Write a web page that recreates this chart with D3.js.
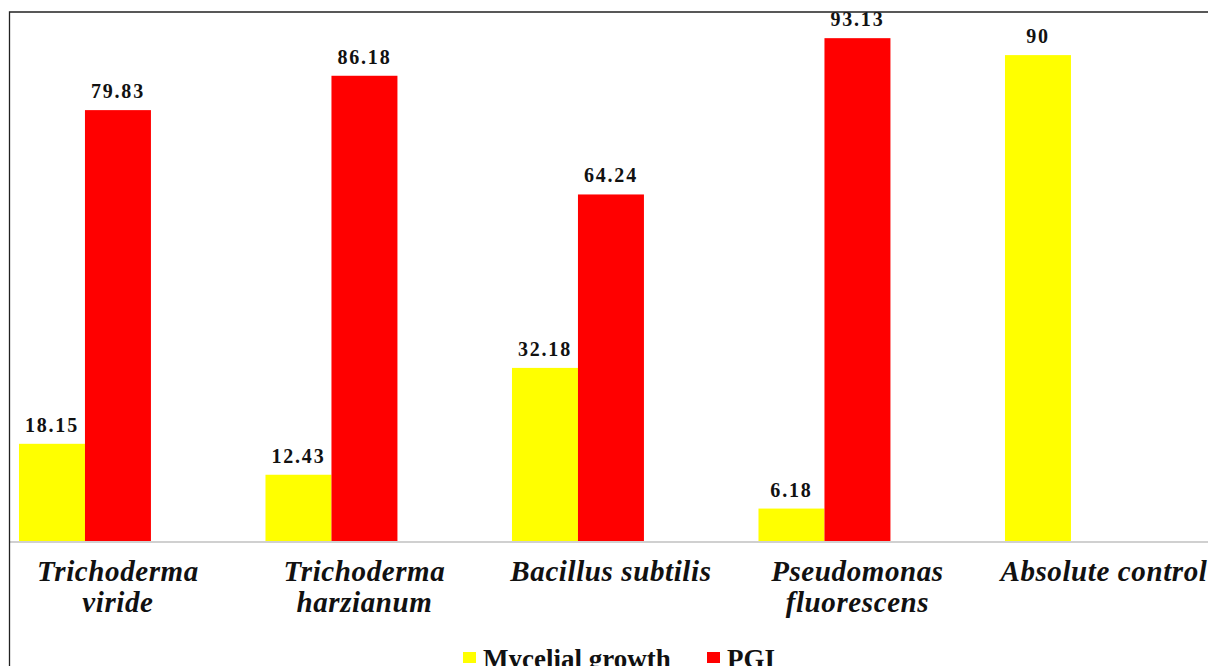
<!DOCTYPE html>
<html>
<head>
<meta charset="utf-8">
<script src="https://cdn.jsdelivr.net/npm/d3@7"></script>
<style>
  body { margin: 0; background: #fff; }
  svg { display: block; font-family: "Liberation Serif", "Times New Roman", serif; }
</style>
</head>
<body>
<div id="chart"></div>
<script>
// categories (two lines each) and series values
const categories = [
  ["Trichoderma", "viride"],
  ["Trichoderma", "harzianum"],
  ["Bacillus subtilis"],
  ["Pseudomonas", "fluorescens"],
  ["Absolute control"]
];
const myceliaGrowth = [18.15, 12.43, 32.18, 6.18, 90];
const pgi = [79.83, 86.18, 64.24, 93.13, null];
const seriesNames = ["Mycelial growth", "PGI"];
const seriesColors = ["#ffff00", "#ff0000"];

const width = 1208, height = 666;
const baseY = 542;

const svg = d3.select("#chart").append("svg")
  .attr("width", width)
  .attr("height", height);

const catKeys = categories.map(c => c.join(" "));

// category bands: step 246.5, band 198 (Excel-style cluster with 3 slots)
const step = 246.5;
const x = d3.scaleBand()
  .domain(catKeys)
  .range([-5.3, -5.3 + step * catKeys.length])
  .paddingInner(0.197)
  .paddingOuter(0.0985);

// third slot stays empty
const xSub = d3.scaleBand()
  .domain(["growth", "pgi", "empty"])
  .range([0, x.bandwidth()]);

const y = d3.scaleLinear().domain([0, 100]).range([baseY, 1]);

const rows = catKeys.map((k, i) => ({
  cat: k,
  vals: [
    { key: "growth", value: myceliaGrowth[i], color: seriesColors[0] },
    { key: "pgi", value: pgi[i], color: seriesColors[1] }
  ].filter(d => d.value != null)
}));

const groups = svg.append("g").selectAll("g")
  .data(rows)
  .join("g")
  .attr("transform", d => `translate(${x(d.cat)},0)`);

groups.selectAll("rect")
  .data(d => d.vals)
  .join("rect")
  .attr("x", d => xSub(d.key))
  .attr("y", d => y(d.value))
  .attr("width", xSub.bandwidth())
  .attr("height", d => baseY - y(d.value))
  .attr("fill", d => d.color);

groups.selectAll("text.val")
  .data(d => d.vals)
  .join("text")
  .attr("class", "val")
  .attr("x", d => xSub(d.key) + xSub.bandwidth() / 2)
  .attr("y", d => y(d.value) - 12)
  .attr("text-anchor", "middle")
  .style("font-size", "20px")
  .style("font-weight", "bold")
  .style("letter-spacing", "1.8px")
  .attr("fill", "#111")
  .text(d => d.value);

// baseline
svg.append("line")
  .attr("x1", 10).attr("x2", width)
  .attr("y1", baseY).attr("y2", baseY)
  .attr("stroke", "#d0d0d0")
  .attr("stroke-width", 2);

// category labels
categories.forEach((lines, i) => {
  const cx = x(catKeys[i]) + x.bandwidth() / 2;
  const t = svg.append("text")
    .attr("text-anchor", "middle")
    .style("font-size", "29px")
    .style("font-weight", "bold")
    .style("font-style", "italic")
    .style("letter-spacing", "0.6px")
    .attr("fill", "#111");
  lines.forEach((line, j) => {
    t.append("tspan")
      .attr("x", cx)
      .attr("y", 581 + j * 31)
      .text(line);
  });
});

// legend
const legendItems = [
  { name: seriesNames[0], color: seriesColors[0], x: 463 },
  { name: seriesNames[1], color: seriesColors[1], x: 707 }
];
const legend = svg.append("g").attr("class", "legend");
legend.selectAll("rect")
  .data(legendItems)
  .join("rect")
  .attr("x", d => d.x)
  .attr("y", 652)
  .attr("width", 13)
  .attr("height", 11)
  .attr("fill", d => d.color);
legend.selectAll("text")
  .data(legendItems)
  .join("text")
  .attr("x", d => d.x + 20)
  .attr("y", 668)
  .style("font-size", "27px")
  .style("font-weight", "bold")
  .attr("fill", "#111")
  .text(d => d.name);

// outer frame (top and left visible)
svg.append("path")
  .attr("d", `M9.5,${height}V12H${width}`)
  .attr("fill", "none")
  .attr("stroke", "#222")
  .attr("stroke-width", 1.3);
</script>
</body>
</html>
